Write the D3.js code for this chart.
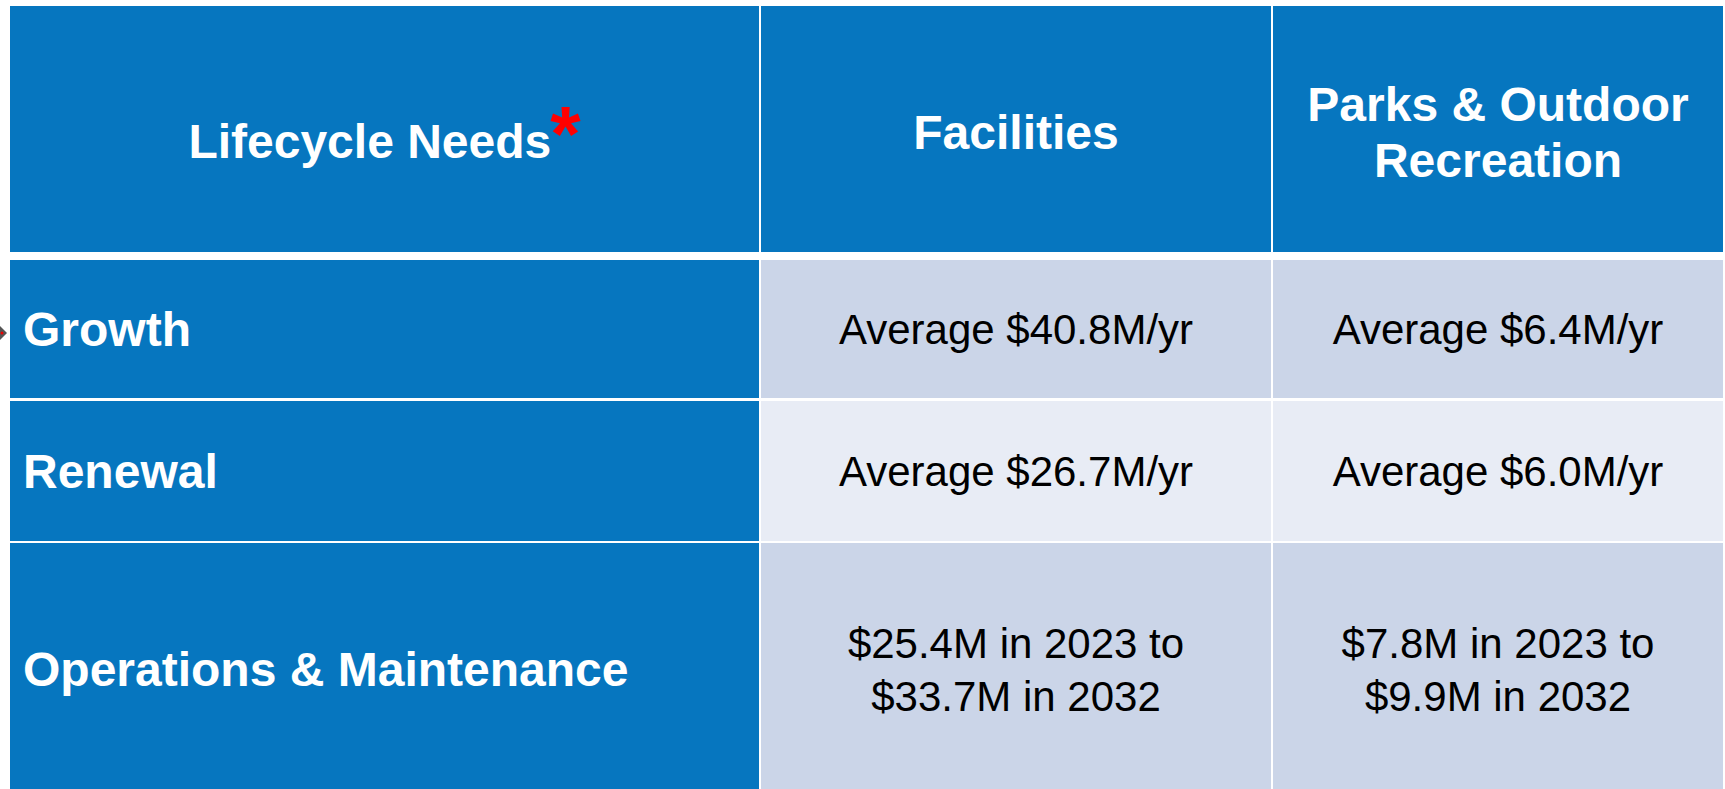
<!DOCTYPE html>
<html>
<head>
<meta charset="utf-8">
<script src="https://cdn.jsdelivr.net/npm/d3@7"></script>
<style>
  body { margin: 0; background: #fff; }
  svg { display: block; font-family: "Liberation Sans", Arial, sans-serif; }
</style>
</head>
<body>
<svg id="chart"></svg>
<script>
// table content
var columns = ["Lifecycle Needs", "Facilities", "Parks & Outdoor Recreation"]
var headerLines = [["Lifecycle Needs"], ["Facilities"], ["Parks & Outdoor", "Recreation"]]
var rowLabels = ["Growth", "Renewal", "Operations & Maintenance"]
var facilities = [["Average $40.8M/yr"], ["Average $26.7M/yr"], ["$25.4M in 2023 to", "$33.7M in 2032"]]
var parks = [["Average $6.4M/yr"], ["Average $6.0M/yr"], ["$7.8M in 2023 to", "$9.9M in 2032"]]
var footnoteMark = "*"

var screen = {width: 1725, height: 789}
var blue = "#0676bf"
var rowFill = ["#cbd5e8", "#e8ecf5", "#cbd5e8"]

var svg = d3.select("#chart")
  .attr("width", screen.width)
  .attr("height", screen.height)

// column edges and row edges (top, bottom)
var xLeft = d3.scaleOrdinal().domain(columns).range([10, 761, 1273])
var xRight = d3.scaleOrdinal().domain(columns).range([759, 1271, 1723])
var rowKeys = ["header"].concat(rowLabels)
var yTop = d3.scaleOrdinal().domain(rowKeys).range([6, 260, 401, 543])
var yBottom = d3.scaleOrdinal().domain(rowKeys).range([252, 398, 541, 795])

// build cells
var cells = []
columns.forEach(function(col, i) {
  cells.push({row: "header", col: col, lines: headerLines[i], fill: blue, kind: "head"})
})
rowLabels.forEach(function(r, j) {
  cells.push({row: r, col: columns[0], lines: [r], fill: blue, kind: "label"})
  cells.push({row: r, col: columns[1], lines: facilities[j], fill: rowFill[j], kind: "value"})
  cells.push({row: r, col: columns[2], lines: parks[j], fill: rowFill[j], kind: "value"})
})

var style = {
  head:  {size: 48, weight: "bold", color: "#fff", lh: 56, anchor: "middle", shift: 3},
  label: {size: 48, weight: "bold", color: "#fff", lh: 56, anchor: "start", shift: 0},
  value: {size: 42, weight: "normal", color: "#000", lh: 53, anchor: "middle", shift: 0}
}

var g = svg.append("g").attr("id", "table")

g.selectAll("rect.cell")
  .data(cells)
  .enter()
  .append("rect")
  .attr("class", "cell")
  .attr("x", function(d) { return xLeft(d.col) })
  .attr("y", function(d) { return yTop(d.row) })
  .attr("width", function(d) { return xRight(d.col) - xLeft(d.col) })
  .attr("height", function(d) { return yBottom(d.row) - yTop(d.row) })
  .attr("fill", function(d) { return d.fill })

var texts = g.selectAll("text.cell")
  .data(cells)
  .enter()
  .append("text")
  .attr("class", "cell")
  .each(function(d) {
    var s = style[d.kind]
    var cy = (yTop(d.row) + yBottom(d.row)) / 2 + s.shift
    var cx = s.anchor == "start" ? 23 : (xLeft(d.col) + xRight(d.col)) / 2
    var n = d.lines.length
    var t = d3.select(this)
      .attr("font-size", s.size)
      .attr("font-weight", s.weight)
      .attr("fill", s.color)
      .attr("text-anchor", s.anchor)
    d.lines.forEach(function(line, k) {
      var base = cy + (k - (n - 1) / 2) * s.lh + s.size * 0.716 / 2
      if (d.kind == "head" && d.col == columns[0]) {
        // first header cell carries the red footnote mark, line box sits lower
        base += 9
        t.attr("x", cx).attr("y", base)
        t.append("tspan").text(line)
        t.append("tspan")
          .attr("font-size", 78)
          .attr("fill", "#ff0000")
          .attr("dx", -1)
          .attr("dy", 3)
          .text(footnoteMark)
      } else {
        t.append("tspan")
          .attr("x", cx)
          .attr("y", base)
          .text(line)
      }
    })
  })

// small pointer at left edge of the Growth row
var gy = (yTop("Growth") + yBottom("Growth")) / 2 + 4
svg.append("path")
  .attr("d", "M0," + (gy - 7) + " L7," + gy + " L0," + (gy + 7) + " Z")
  .attr("fill", "#555")
svg.append("circle")
  .attr("cx", 2).attr("cy", gy).attr("r", 1.5)
  .attr("fill", "#e00")
</script>
</body>
</html>
